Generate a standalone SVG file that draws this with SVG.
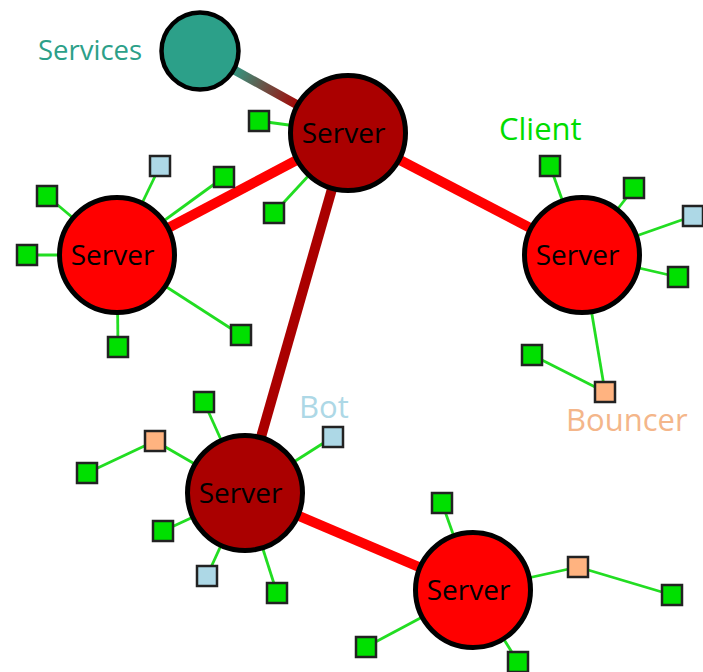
<svg xmlns="http://www.w3.org/2000/svg" width="703" height="672" viewBox="0 0 703 672">
<style>
.srv{stroke:#000;stroke-width:5}
.dark{fill:#aa0000}
.red{fill:#ff0000}
.lbl{font-family:"Open Sans","Noto Sans",sans-serif;font-size:28px;fill:#000;text-anchor:middle}
.tag{font-family:"Open Sans","Noto Sans",sans-serif;font-size:31px}
.sq{stroke:#222;stroke-width:2.5}
.g{fill:#00e000}
.b{fill:#add8e6}
.o{fill:#ffb380}
.thin{stroke:#22dd22;stroke-width:2.8;fill:none}
.thick{stroke-width:10;fill:none}
</style>
<defs>
<linearGradient id="svcGrad" gradientUnits="userSpaceOnUse" x1="230" y1="68" x2="300" y2="107">
<stop offset="0" stop-color="#2ca089"/>
<stop offset="1" stop-color="#aa0000"/>
</linearGradient>
</defs>
<rect width="703" height="672" fill="#fff"/>
<g id="connectors">
<line x1="200" y1="51" x2="348" y2="133" stroke="url(#svcGrad)" stroke-width="9"/>
<line class="thick" x1="348" y1="133" x2="117" y2="255" stroke="#ff0000"/>
<line class="thick" x1="348" y1="133" x2="582" y2="255" stroke="#ff0000"/>
<line class="thick" x1="348" y1="133" x2="245" y2="493" stroke="#aa0000"/>
<line class="thick" x1="245" y1="493" x2="473" y2="590" stroke="#ff0000"/>
<line class="thin" x1="348" y1="133" x2="259" y2="121"/>
<line class="thin" x1="348" y1="133" x2="274" y2="213"/>
<line class="thin" x1="117" y1="255" x2="160" y2="166"/>
<line class="thin" x1="117" y1="255" x2="224" y2="177"/>
<line class="thin" x1="117" y1="255" x2="47" y2="196"/>
<line class="thin" x1="117" y1="255" x2="27" y2="255"/>
<line class="thin" x1="117" y1="255" x2="118" y2="347"/>
<line class="thin" x1="117" y1="255" x2="241" y2="335"/>
<line class="thin" x1="582" y1="255" x2="550" y2="166"/>
<line class="thin" x1="582" y1="255" x2="634" y2="188"/>
<line class="thin" x1="582" y1="255" x2="693" y2="216"/>
<line class="thin" x1="582" y1="255" x2="678" y2="277"/>
<line class="thin" x1="582" y1="255" x2="605" y2="392"/>
<line class="thin" x1="605" y1="392" x2="532" y2="355"/>
<line class="thin" x1="245" y1="493" x2="204" y2="402"/>
<line class="thin" x1="245" y1="493" x2="155" y2="441"/>
<line class="thin" x1="155" y1="441" x2="87" y2="473"/>
<line class="thin" x1="245" y1="493" x2="333" y2="437"/>
<line class="thin" x1="245" y1="493" x2="163" y2="531"/>
<line class="thin" x1="245" y1="493" x2="207" y2="576"/>
<line class="thin" x1="245" y1="493" x2="277" y2="593"/>
<line class="thin" x1="473" y1="590" x2="442" y2="503"/>
<line class="thin" x1="473" y1="590" x2="578" y2="567"/>
<line class="thin" x1="578" y1="567" x2="672" y2="595"/>
<line class="thin" x1="473" y1="590" x2="366" y2="647"/>
<line class="thin" x1="473" y1="590" x2="518" y2="662"/>
</g>
<g id="services">
<circle cx="200" cy="51" r="38.5" fill="#2ca089" stroke="#000" stroke-width="4.5"/>
<text class="tag" x="38" y="60" fill="#2ca089" style="font-size:27.5px">Services</text>
</g>
<g id="server-top">
<circle class="srv dark" cx="348" cy="133" r="57.5"/>
<text class="lbl" x="343.5" y="143">Server</text>
</g>
<g id="server-left">
<circle class="srv red" cx="117" cy="255" r="57.5"/>
<text class="lbl" x="112.5" y="265">Server</text>
</g>
<g id="server-right">
<circle class="srv red" cx="582" cy="255" r="57.5"/>
<text class="lbl" x="577.5" y="265">Server</text>
</g>
<g id="server-bottom-left">
<circle class="srv dark" cx="245" cy="493" r="57.5"/>
<text class="lbl" x="240.5" y="503">Server</text>
</g>
<g id="server-bottom-right">
<circle class="srv red" cx="473" cy="590" r="57.5"/>
<text class="lbl" x="468.5" y="600">Server</text>
</g>
<g id="leaves">
<rect class="sq g" x="249" y="111" width="20" height="20"/>
<rect class="sq g" x="264" y="203" width="20" height="20"/>
<rect class="sq b" x="150" y="156" width="20" height="20"/>
<rect class="sq g" x="214" y="167" width="20" height="20"/>
<rect class="sq g" x="37" y="186" width="20" height="20"/>
<rect class="sq g" x="17" y="245" width="20" height="20"/>
<rect class="sq g" x="108" y="337" width="20" height="20"/>
<rect class="sq g" x="231" y="325" width="20" height="20"/>
<rect class="sq g" x="540" y="156" width="20" height="20"/>
<rect class="sq g" x="624" y="178" width="20" height="20"/>
<rect class="sq b" x="683" y="206" width="20" height="20"/>
<rect class="sq g" x="668" y="267" width="20" height="20"/>
<rect class="sq o" x="595" y="382" width="20" height="20"/>
<rect class="sq g" x="522" y="345" width="20" height="20"/>
<rect class="sq g" x="194" y="392" width="20" height="20"/>
<rect class="sq o" x="145" y="431" width="20" height="20"/>
<rect class="sq g" x="77" y="463" width="20" height="20"/>
<rect class="sq b" x="323" y="427" width="20" height="20"/>
<rect class="sq g" x="153" y="521" width="20" height="20"/>
<rect class="sq b" x="197" y="566" width="20" height="20"/>
<rect class="sq g" x="267" y="583" width="20" height="20"/>
<rect class="sq g" x="432" y="493" width="20" height="20"/>
<rect class="sq o" x="568" y="557" width="20" height="20"/>
<rect class="sq g" x="662" y="585" width="20" height="20"/>
<rect class="sq g" x="356" y="637" width="20" height="20"/>
<rect class="sq g" x="508" y="652" width="20" height="20"/>
</g>
<g id="labels">
<text class="tag" x="499" y="140" fill="#00dd00">Client</text>
<text class="tag" x="299" y="418" fill="#add8e6">Bot</text>
<text class="tag" x="566" y="431" fill="#f4b68a">Bouncer</text>
</g>
</svg>
